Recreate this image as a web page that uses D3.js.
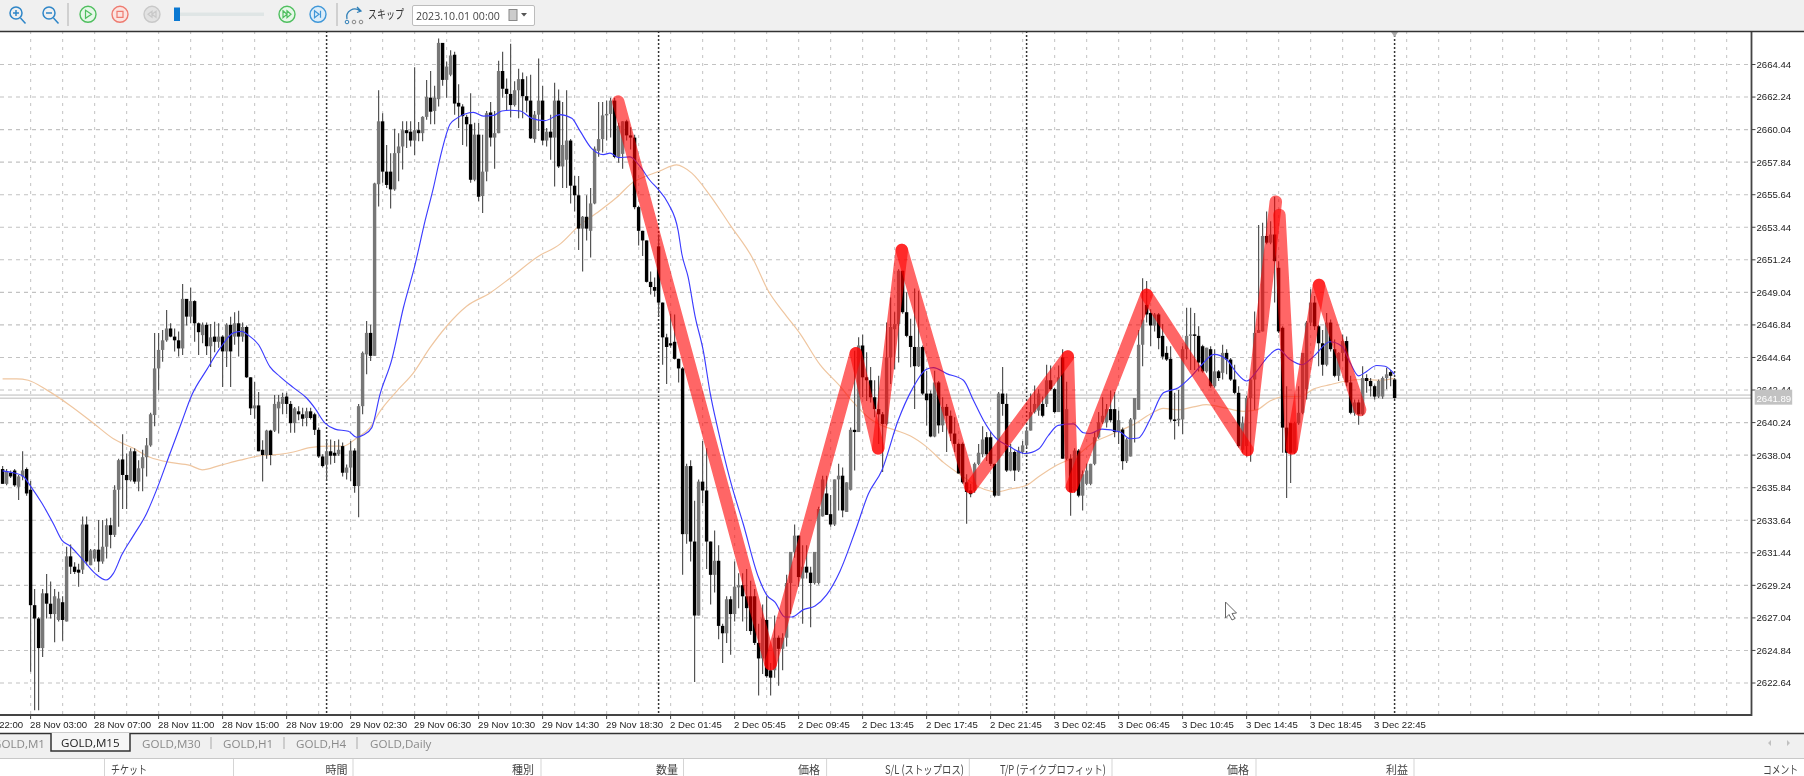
<!DOCTYPE html>
<html><head><meta charset="utf-8">
<script src="https://cdn.jsdelivr.net/npm/d3@7"></script>
<style>html,body{margin:0;padding:0;background:#fff;overflow:hidden}svg{display:block;filter:blur(.7px)}</style>
</head><body><svg id="c" width="1804" height="776"></svg>
<script>
// Candles as [open, high, low, close], one per 15-minute bar, in time order
const bars28Nov=[[2637.1,2637.3,2636.1,2636.1],[2636.1,2637.1,2636,2636.9],[2636.85,2637,2636.5,2636.6],[2637,2637.1,2635.9,2636],[2635.9,2636.7,2635,2636.6],[2636.6,2638.3,2636.35,2637],[2637.1,2637.2,2635.3,2635.45],[2635.7,2636.3,2623.4,2627.9],[2627.9,2629,2620.8,2627],[2627,2627.1,2620.8,2625],
[2625,2629,2624.4,2628.7],[2628.7,2630,2627,2628],[2628,2629.5,2627,2627.3],[2627.3,2629,2625.4,2628.5],[2626.9,2628.8,2626.8,2628.35],[2628.1,2628.5,2625.5,2626.9],[2626.8,2631.85,2626.8,2631.2],[2631.2,2632,2630,2630.5],[2630.5,2630.8,2630,2630.15],[2630.3,2630.7,2629.15,2630.1],
[2630.3,2633.9,2630,2633.35],[2633.35,2633.9,2630.6,2630.85],[2630.6,2631.7,2630.6,2631.6],[2631.05,2631.7,2630.85,2631.65],[2631.65,2633.65,2630.15,2630.85],[2630.85,2633.65,2630.7,2631.85],[2631.85,2633.75,2631.05,2633.3],[2633.3,2633.8,2631.75,2632.65],[2632.65,2636,2632.5,2635.7],[2635.7,2637.8,2633.2,2637.7],
[2637.75,2639.45,2634.4,2636.7],[2636.7,2638.15,2634.4,2636.35],[2636.35,2638.5,2636.25,2638.3],[2638.3,2638.5,2636.1,2636.25],[2636.25,2637.7,2635.6,2637.15],[2637.15,2638.4,2635.6,2637.9],[2637.9,2639.2,2636.6,2638.7],[2638.7,2640.9,2638.6,2640.8],[2640.75,2646.3,2640,2643.9],[2643.9,2646.3,2642.4,2645.15],
[2645.15,2646.5,2644.35,2645.8],[2645.8,2647.85,2645.7,2646.6],[2646.6,2646.95,2646,2646.05],[2646.05,2646.6,2645.05,2645.8],[2645.8,2646.4,2644.7,2645.25],[2645.25,2649.6,2644.8,2648.6],[2648.6,2648.6,2646.8,2647.4],[2647.4,2649.35,2646.95,2648.45],[2648.45,2648.5,2645.7,2646.95],[2646.95,2647,2644.8,2646.35],
[2646.15,2647,2645.6,2646.85],[2646.85,2647,2644.8,2645.4],[2645.4,2646.9,2644,2646],[2646.05,2647.05,2645,2645.7],[2645.7,2646.95,2645.3,2646.05],[2646.05,2646.15,2642.65,2645.05],[2645.05,2646.95,2644,2646.85],[2646.85,2647.4,2642.65,2645.05],[2646.05,2647.7,2645.5,2646.95],[2646.95,2647.8,2644.7,2646.05],
[2646.05,2647,2645.7,2646.7],[2646.7,2646.8,2643.25,2643.3],[2643.3,2643.3,2640.75,2641.2],[2641.2,2643,2640.5,2641.4],[2641.4,2642.3,2638.3,2638.3],[2638.4,2639.05,2636.25,2638.05],[2638.05,2639.75,2637.8,2639.7],[2639.7,2639.75,2637.35,2638.05],[2639.7,2642.1,2639.6,2641.5],[2641.2,2642.1,2639.5,2641.65]];
const bars29Nov=[[2641.5,2642.25,2640.8,2641.97],[2642,2642.25,2640.8,2641.5],[2641.5,2641.7,2639.55,2640.2],[2640.2,2641.3,2639.55,2641.2],[2641,2641.35,2640.4,2640.8],[2640.8,2641.25,2640,2640.5],[2640.55,2641.25,2640,2641],[2641,2641.25,2640.45,2640.55],[2640.8,2640.9,2639.4,2639.75],[2639.75,2639.9,2637.85,2637.95],
[2637.95,2638.1,2637.2,2637.3],[2637.4,2639.1,2636.4,2638.3],[2638.3,2639.1,2637.4,2638],[2638.2,2639,2637.5,2638],[2638.1,2639.1,2638,2638.4],[2638.65,2638.9,2636.6,2636.85],[2636.85,2637.4,2636.4,2637.2],[2637.2,2639,2636.3,2638.35],[2638.35,2638.5,2635.5,2635.95],[2635.95,2641.5,2633.85,2641.35],
[2641.35,2645.05,2640.8,2644.95],[2644.85,2647.1,2643.5,2646.3],[2646.3,2646.85,2644.4,2644.75],[2644.75,2656.45,2644.75,2656.4],[2656.35,2662.7,2654.85,2660.6],[2660.6,2661.15,2656.45,2657.2],[2657.2,2659,2656.1,2656.3],[2657.2,2658.45,2654.7,2656],[2656,2660.1,2655.9,2658.45],[2658.45,2659.8,2656.55,2658.9],
[2658.9,2660.6,2657.35,2660],[2660,2660.6,2658.8,2659.8],[2659.9,2660.6,2658.9,2659.3],[2659.3,2664.25,2658.3,2660],[2660,2660.55,2659.25,2659.8],[2659.8,2660.95,2659.25,2660.9],[2660.9,2663.4,2660.7,2662.25],[2662.2,2664,2660.4,2661.25],[2661.3,2663,2660.4,2662.2],[2662.1,2666.2,2661.6,2665.9],
[2665.9,2665.9,2663,2663.4],[2663.4,2664.65,2662.2,2664.3],[2663.75,2665.4,2663.65,2665.05],[2665.1,2665.3,2661.05,2661.8],[2661.85,2663.1,2660.15,2661.6],[2661.6,2661.75,2659,2660.95],[2660.9,2661.05,2658.9,2660.4],[2660.4,2662.5,2656.45,2656.65],[2656.65,2660.5,2656.55,2659.7],[2659.7,2660.5,2655.2,2655.5],
[2655.55,2659.7,2654.4,2657.2],[2657.2,2661.3,2656.55,2661.15],[2661.2,2661.9,2658.9,2659.5],[2659.5,2661.3,2657.4,2659.8],[2659.8,2664.7,2659.8,2664],[2664,2665.3,2662.2,2662.8],[2662.8,2663.5,2661.3,2662.45],[2662.45,2665.85,2660.85,2661.7],[2661.7,2663.3,2661.6,2662.7],[2662.7,2664.15,2660.8,2663.45],
[2663.45,2663.9,2660.8,2662.3],[2662.3,2663.65,2661.2,2662],[2662,2663.75,2659.4,2659.45],[2659.4,2661.3,2659.15,2661.05],[2661.05,2664.85,2659.95,2662],[2662,2663,2659,2659.3],[2659.3,2660.15,2658.9,2659.9],[2659.9,2661.05,2658,2659.5],[2659.5,2663.2,2656.2,2662],[2662,2662.75,2657.45,2657.55]];
const bars2DecA=[[2657.55,2661.9,2656.1,2659],[2658,2662.7,2656.1,2659.3],[2659.3,2659.4,2655.05,2656.25],[2656.25,2656.9,2654.5,2655.6],[2655.6,2656.9,2651.9,2653.35],[2653.35,2654.2,2650.45,2654.15],[2654.15,2655.6,2652.55,2653.35],[2653.2,2656.1,2651.4,2655.05],[2655.05,2658.9,2655,2658.75],[2658.6,2661.9,2658.2,2659.4],
[2659.4,2661.9,2658.5,2661],[2661,2662,2659.3,2661.1],[2661.1,2662.2,2659.5,2662],[2662,2662.2,2658.1,2658.2],[2658.2,2660.5,2657.8,2660.3],[2658.4,2660.6,2657.4,2660.6],[2660.6,2660.7,2659.3,2659.65],[2659.65,2660.2,2658.7,2659.5],[2659.5,2659.7,2654.65,2654.8],[2654.8,2654.9,2652.2,2653.2],
[2653.2,2653.2,2651.5,2652.55],[2652.55,2652.55,2649.7,2649.75],[2649.75,2650.45,2648.9,2649.4],[2649.4,2650.05,2648.75,2649.15],[2652.15,2652.95,2647.45,2648.35],[2648.35,2648.35,2644.15,2646],[2646,2646.25,2642.85,2645.35],[2645.6,2647.6,2645.3,2645.45],[2645.7,2647.55,2644.5,2644.55],[2644.55,2644.55,2642.95,2643.9],
[2643.9,2644,2629.95,2632.7],[2632.7,2637.45,2632.05,2637.3],[2637.3,2637.7,2630.85,2632.2],[2632.2,2634.95,2622.7,2627.2],[2627.2,2636.4,2627.2,2636.25],[2636.25,2639,2634.8,2635.65],[2635.65,2638.5,2630.35,2632.2],[2632.2,2632.2,2627.95,2629.95],[2629.95,2632.95,2628.75,2630.9],[2630.9,2631.95,2625.6,2626.5],
[2626.5,2626.65,2624,2626],[2626,2628.5,2625.35,2628.3],[2628.3,2628.5,2624.55,2627.3],[2627.3,2630.85,2626.8,2629.15],[2629.1,2630.05,2627.7,2629.25],[2629.25,2630.05,2626.8,2628.5],[2628.5,2630.35,2626.15,2627.7],[2628.5,2629.55,2625.9,2626.15],[2628.5,2629,2625.2,2625.35],[2625.35,2626.65,2621.8,2624.3],
[2624.3,2627.95,2623.25,2627],[2626.9,2628.5,2623,2623.1],[2623.5,2624,2621.8,2623],[2623.5,2627.2,2623,2625.7],[2625.7,2625.85,2622.45,2624.95],[2624.95,2626,2623.5,2625.7],[2625.7,2629.95,2625.1,2629.4],[2629.4,2631.5,2627.3,2631.5],[2631.5,2633.35,2631.1,2632.6],[2632.6,2632.6,2629.15,2629.8],
[2629.7,2631.95,2626.65,2630.5],[2630.5,2631.95,2629.7,2630.1],[2630.1,2630.5,2626.4,2629.4],[2629.4,2631.5,2629.3,2631.5],[2629.4,2634.55,2629.3,2634.4],[2633.9,2636.65,2633.9,2636.4],[2635.45,2636.65,2634,2634],[2634.05,2635.35,2633.2,2633.35],[2633.35,2636.4,2633.25,2636.4],[2636.4,2637.45,2634.3,2636.65]];
const bars2DecB=[[2636.65,2637.2,2633.85,2634.3],[2634.2,2636.2,2634.2,2636.2],[2635.7,2639.9,2635.65,2639.75],[2639.75,2645.1,2637,2639.6],[2639.6,2646,2639.6,2645.45],[2645.45,2646.2,2641.95,2643.3],[2643.3,2645,2641.7,2643.1],[2643.1,2644,2641.6,2641.95],[2641.95,2643.1,2640.6,2641.15],[2641.15,2643.4,2638.8,2640.8],
[2640.8,2640.95,2636.9,2640.15],[2640.15,2647,2640.05,2644.65],[2644.65,2648.7,2642.85,2646.7],[2646.55,2647.7,2643.85,2646.9],[2646.9,2650.6,2644.3,2650.5],[2650.5,2650.5,2647.6,2647.7],[2647.7,2649.05,2646,2646.1],[2646.1,2647.25,2643.98,2645.35],[2645.35,2649.3,2641.15,2644.05],[2644.05,2649.15,2644,2645.35],
[2645.35,2645.45,2642.1,2642.2],[2642.2,2643.75,2640.05,2641.75],[2642.2,2642.4,2639.25,2639.3],[2639.3,2643.75,2639.25,2642.95],[2642.95,2643.05,2639.5,2640.05],[2640.05,2641.95,2639.6,2641.3],[2641.3,2641.5,2638.25,2640.7],[2640.7,2641.05,2639,2639.5],[2639.5,2640.6,2638.25,2638.8],[2638.8,2638.9,2636.8,2636.8],
[2638.8,2638.9,2636.1,2636.2],[2636.2,2636.75,2633.4,2635.55],[2635.65,2636.1,2635.2,2635.4],[2635.65,2637.55,2635.5,2637.45],[2637.45,2638.8,2637.35,2638.2],[2638.1,2640,2637.9,2639.1],[2639.25,2639.6,2637.65,2638.1],[2639.25,2639.6,2637.3,2637.45],[2637.45,2637.45,2635.2,2635.3],[2635.3,2642.3,2635.3,2642.2],
[2642.2,2644,2640.7,2641.5],[2641.5,2642.2,2636.9,2637],[2637,2638.8,2636.95,2638.25],[2638.25,2638.35,2636.3,2637],[2637,2638.6,2636.9,2638.35],[2638.25,2639,2638.1,2638.7],[2638.7,2639.95,2638.55,2639.7],[2639.7,2642.2,2639.7,2640.95],[2640.95,2642.75,2640.85,2641.5],[2641.05,2642.5,2640.7,2642.2],
[2641.5,2642,2640.6,2640.7],[2641.5,2644.15,2641.3,2643.1],[2643.1,2644.1,2642.4,2642.5],[2642.5,2642.6,2640.85,2640.95],[2640.95,2644.1,2640.95,2643.3],[2644.65,2645.2,2637.8,2637.8],[2637.8,2643,2637.7,2641.15],[2637.8,2638.1,2633.95,2635.55],[2635.65,2638.5,2635.5,2638.35],[2638.35,2638.45,2635.2,2635.3],
[2635.3,2637,2634.3,2636.75],[2636.1,2637.45,2636,2637],[2636.1,2637.45,2636,2637.45],[2637.45,2639.6,2637.35,2639.25],[2639.25,2640.95,2639.15,2640.25],[2640.25,2641.95,2640.15,2640.7],[2640.25,2641.5,2639.9,2641.15],[2641.15,2642.4,2640.25,2640.4],[2641.15,2642.3,2639.25,2639.6],[2639.6,2641.05,2638.8,2640.4]];
const bars3Dec=[[2639.77,2639.9,2637.05,2637.63],[2637.63,2639.2,2637.5,2639.1],[2637.95,2640.55,2637.95,2640.45],[2640.45,2641.9,2638.9,2641.9],[2641.1,2646.5,2641.1,2645.5],[2645.5,2650,2644.05,2647.2],[2648.2,2649.8,2647,2647.55],[2647.65,2647.9,2645.4,2646.8],[2646.8,2647.65,2646.4,2647.55],[2647.55,2647.65,2645.2,2645.95],
[2646.1,2646.9,2644.5,2644.7],[2644.95,2645.4,2644.4,2644.5],[2644.55,2645.4,2640.3,2640.45],[2640.45,2642.25,2639.1,2640.35],[2640.4,2642.45,2640,2640.5],[2640.45,2645.4,2639.45,2645.2],[2645.2,2648,2644.5,2646.1],[2646.1,2648,2643.8,2646.2],[2646.2,2647.65,2643.8,2646.1],[2646.1,2646.75,2643.7,2644.3],
[2645.4,2645.5,2643.6,2643.7],[2643.7,2645.3,2643.6,2645.3],[2645.2,2645.4,2642.6,2642.7],[2642.7,2645.2,2642.6,2643.7],[2643.7,2643.8,2643.05,2643.25],[2643.6,2645.5,2643.15,2644.95],[2644.95,2645.2,2643.5,2644.5],[2644.5,2644.6,2643.05,2643.15],[2643.15,2644.15,2642.15,2642.25],[2642.25,2642.7,2638.55,2638.65],
[2638.4,2640.65,2638.2,2640.2],[2638.65,2642.05,2637.95,2641.9],[2641.9,2643.25,2637.6,2643.15],[2643.15,2647.75,2641.1,2646.3],[2646.3,2653.6,2646.3,2646.5],[2646.4,2653.75,2646.4,2652.85],[2652.85,2654.5,2652.3,2652.4],[2652.4,2653.85,2652.3,2652.95],[2652.95,2655.5,2648.35,2651.15],[2650.7,2651.15,2646.3,2646.4],
[2646.65,2646.75,2638.2,2639.9],[2639.9,2642.7,2635.15,2638.2],[2640.2,2640.2,2636.15,2638.2],[2638.2,2640.3,2638.1,2640.2],[2640.2,2642.7,2640.1,2640.9],[2640.9,2644.95,2640.8,2644.95],[2642.5,2647.1,2641.8,2647],[2647,2649.25,2646.75,2648.35],[2648.35,2648.8,2646.5,2646.75],[2646.75,2646.85,2644.05,2645.6],
[2645.6,2646.5,2643.4,2644.15],[2644.15,2647.65,2644.05,2647],[2647,2647.2,2645.05,2645.2],[2645.2,2645.85,2643.3,2643.4],[2643.4,2645,2643.05,2644.95],[2644.95,2646.2,2644.4,2645.75],[2645.75,2646.05,2642.7,2642.95],[2642.95,2643.4,2640.8,2640.9],[2640.9,2641.8,2640.7,2641.6],[2641.6,2641.8,2640.1,2640.8],
[2640.8,2644.05,2640.7,2643.25],[2643.25,2643.5,2642.25,2643.05],[2643.05,2643.25,2642,2642.7],[2642.7,2642.8,2641.8,2642],[2642,2643.15,2641.9,2643.05],[2642,2643.35,2641.85,2643.25],[2643.25,2643.95,2642.5,2643.5],[2643.65,2643.8,2642.7,2643.4],[2643.15,2643.25,2641.85,2641.9]];

// Moving averages as [bar number, price]
const maFast=[[0,2636.98],[2.7,2636.85],[5.2,2636.6],[6.85,2636],[9.8,2634.8],[12.7,2633.4],[14.8,2632.3],[16.85,2631.9],[19.8,2631.05],[23.1,2630.05],[25.85,2629.6],[27.7,2630.05],[29.8,2631.3],[32.7,2632.6],[36,2634.1],[38.5,2635.7],[41.85,2638.15],[44.8,2640.3],[47.3,2642.1],[51,2643.8],[54.35,2645.25],[57.7,2646.3],[59.8,2646.4],[61.4,2646.15],[64,2645.5],[66.85,2644],[69.35,2643.35],[72.7,2642.6],[76,2641.9],[78.1,2641.2],[80.6,2640.2],[83.1,2639.8],[86.45,2639.65],[88.5,2639.25],[90.2,2639.4],[92.3,2639.9],[94.35,2642.15],[97.3,2644.5],[100.2,2648],[103.1,2650.9],[105.6,2653.85],[107.7,2656.1],[109.35,2658.1],[111.85,2660.4],[113.5,2660.8],[115.6,2661.1],[117.7,2661.2],[120.2,2660.95],[122.7,2661],[124.8,2661.3],[126.85,2661.35],[129.35,2661.3],[132.3,2660.8],[135.6,2660.65],[139.35,2661.05],[142.3,2660.8],[144.35,2659.95],[147.3,2658.75],[150.2,2658.35],[151.85,2658.45],[154,2658.15],[156.85,2658.2],[159.35,2657.55],[161.85,2656.6],[163.9,2656],[166.4,2655.05],[168.9,2653.2],[169.8,2651.65],[171.4,2650.05],[173.1,2647.45],[175.2,2645.05],[176.85,2642.3],[178.9,2639.7],[181.85,2636.4],[185.2,2633.35],[188.95,2629.8],[191,2628.6],[193.1,2628.1],[195.6,2627.1],[197.3,2627.1],[200.2,2627.6],[203.1,2627.85],[206,2628.6],[209.35,2630.2],[213.35,2633.05],[216.4,2635.4],[219.8,2637],[223.9,2640.4],[227.2,2642.4],[231,2643.85],[232.7,2643.95],[236,2643.55],[240.2,2643.1],[242.7,2641.75],[245.2,2640.4],[248.1,2639.25],[251.85,2638.6],[255.6,2638.15],[259,2638.45],[261.4,2639.35],[263.9,2640.05],[267.7,2640.15],[270.2,2639.55],[271.85,2639.5],[274.8,2639.8],[279.35,2639.6],[281.85,2639.15],[283.95,2639.2],[286.85,2640.45],[290.2,2642.25],[293.95,2642.6],[297.3,2643.4],[299.8,2644.15],[302.85,2644.85],[306,2644.5],[308.5,2643.6],[311,2643.05],[313.5,2643.7],[316,2644.6],[318.9,2645.2],[321.85,2644.5],[324.8,2644.15],[327.7,2644.7],[331.85,2645.7],[334.8,2645.4],[336.85,2644.3],[339,2643.4],[341,2643.7],[343.5,2644.1],[345.6,2644.05],[348,2643.5]];
const maSlow=[[0,2643.2],[3.5,2643.2],[6.4,2643.1],[11,2642.45],[16.85,2641.4],[22.7,2640.2],[27.7,2639.15],[32.7,2638.5],[36.85,2637.9],[41.85,2637.55],[46.85,2637.35],[49.9,2637.05],[54.35,2637.35],[59.35,2637.7],[64.35,2638],[69.35,2638.1],[72.7,2638.25],[76.85,2638.55],[81.85,2638.65],[85.2,2638.65],[88.5,2639.2],[91.85,2639.9],[94.35,2641],[98.5,2642.35],[102.7,2643.6],[106.85,2645.3],[111,2646.75],[116,2648.1],[121.85,2649],[126.85,2650],[133.5,2651.4],[139.35,2652.3],[144.35,2653.6],[148.5,2654.4],[153.5,2655.45],[157.7,2656.5],[161,2656.9],[164.35,2657.25],[168.5,2657.65],[170.2,2657.5],[172.3,2657.1],[176.85,2655.6],[181.85,2653.6],[187.7,2651.25],[191.4,2649.15],[195.2,2647.7],[199.35,2646.25],[204.35,2644.15],[209.35,2642.7],[212.7,2641.6],[216.85,2640.5],[220.2,2640],[223.5,2639.7],[226.85,2639.35],[231,2638.6],[235.2,2637.55],[239.8,2636.65],[244.35,2635.85],[248.5,2635.55],[251.85,2635.75],[256,2636],[259.35,2636.65],[263.5,2637.35],[268.5,2638],[272.7,2638.9],[276,2639.3],[279.35,2639.7],[282.7,2640.1],[286.85,2640.8],[290.2,2641.2],[293.95,2641.1],[297.7,2641.3],[301,2641.45],[305.2,2641.25],[310.2,2641],[313.5,2641.1],[316.85,2641.7],[320.2,2642],[324.35,2642],[327.7,2642.5],[331.85,2642.8],[336,2643.05],[340.2,2643.15],[344.35,2643.1],[348,2643.25]];
// Hand-drawn red zigzag: each leg is [bar, price, bar, price]
const zigzagLegs=[[153.9,2661.93,192,2623.92],[192,2623.92,213.3,2644.92],[213.3,2644.92,218.9,2638.5],[218.9,2638.5,224.8,2651.9],[224.8,2651.9,242,2635.87],[242,2635.87,266.3,2644.7],[266.3,2644.7,267.3,2635.9],[267.3,2635.9,286,2648.87],[286,2648.87,311.2,2638.39],[311.2,2638.39,318.3,2655.17],[319.2,2654.27,322.3,2638.5],[322.3,2638.5,329.1,2649.54],[329.1,2649.54,339.4,2641.09]];

const priceTicks=[2664.44,2662.24,2660.04,2657.84,2655.64,2653.44,2651.24,2649.04,2646.84,2644.64,2642.44,2640.24,2638.04,2635.84,2633.64,2631.44,2629.24,2627.04,2624.84,2622.64];
const timeLabels=["27 Nov 22:00","28 Nov 03:00","28 Nov 07:00","28 Nov 11:00","28 Nov 15:00","28 Nov 19:00","29 Nov 02:30","29 Nov 06:30","29 Nov 10:30","29 Nov 14:30","29 Nov 18:30","2 Dec 01:45","2 Dec 05:45","2 Dec 09:45","2 Dec 13:45","2 Dec 17:45","2 Dec 21:45","3 Dec 02:45","3 Dec 06:45","3 Dec 10:45","3 Dec 14:45","3 Dec 18:45","3 Dec 22:45"];
const firstTimeBar=-9, timeStep=16, gridStep=8;
const daySeparators=[81,164,256,348];
const bidPrice=2641.89, askPrice=2642.1;
const tabLabels=["GOLD,M30","GOLD,H1","GOLD,H4","GOLD,Daily"];
const tableHeaders=[["時間",347.5,22],["種別",534,22],["数量",678,22],["価格",820,22],["S/L (ストップロス)",964,79],["T/P (テイクプロフィット)",1106,106],["価格",1249,22],["利益",1408,22],["コメント",1798,35]];
const tableSeps=[104.5,233.5,353,541,683.5,826.6,969.3,1112,1256,1414];

const candles=[].concat(bars28Nov,bars29Nov,bars2DecA,bars2DecB,bars3Dec).map(d=>({o:d[0],h:d[1],l:d[2],c:d[3]}));
const L=0,R=1751.5,T=31,B=715;
const x=d3.scaleLinear().domain([0,348]).range([2.6,1394.6]);
const y=d3.scaleLinear().domain([2622.64,2664.44]).range([683,64.5]);
const svg=d3.select("#c");
const sans='"Liberation Sans",Arial,sans-serif', cjk='"Noto Sans CJK JP","Liberation Sans",sans-serif';
svg.append("defs").append("clipPath").attr("id","plot").append("rect").attr("x",L).attr("y",T).attr("width",R-L).attr("height",B-T);
svg.append("rect").attr("width",1804).attr("height",776).attr("fill","#fff");

// grid
const plot=svg.append("g").attr("clip-path","url(#plot)");
const vBars=d3.range(7,440,gridStep);
plot.selectAll(".vg").data(vBars).join("line").attr("x1",d=>x(d)).attr("x2",d=>x(d)).attr("y1",T).attr("y2",B)
 .attr("stroke","#cccccc").attr("stroke-width",1.2).attr("stroke-dasharray","3,5");
plot.selectAll(".hg").data(priceTicks).join("line").attr("x1",L).attr("x2",R).attr("y1",d=>y(d)).attr("y2",d=>y(d))
 .attr("stroke","#c2c2c2").attr("stroke-width",1.1).attr("stroke-dasharray","4,4");
plot.selectAll(".sep").data(daySeparators).join("line").attr("x1",d=>x(d)).attr("x2",d=>x(d)).attr("y1",T).attr("y2",B)
 .attr("stroke","#333").attr("stroke-width",1.5).attr("stroke-dasharray","2,2");
plot.selectAll(".ba").data([bidPrice,askPrice]).join("line").attr("x1",L).attr("x2",R).attr("y1",d=>y(d)).attr("y2",d=>y(d))
 .attr("stroke","#bbb");

// moving average (slow) under candles
const line=d3.line().x(d=>x(d[0])).y(d=>y(d[1])).curve(d3.curveMonotoneX);
plot.append("path").attr("d",line(maSlow)).attr("fill","none").attr("stroke","#efc6a0").attr("stroke-width",1.2);

// candles
const cg=plot.append("g");
cg.selectAll("line").data(candles).join("line").attr("x1",(d,i)=>x(i)).attr("x2",(d,i)=>x(i)).attr("y1",d=>y(d.h)).attr("y2",d=>y(d.l))
 .attr("stroke","#555").attr("stroke-width",1.2);
cg.selectAll("rect").data(candles).join("rect").attr("x",(d,i)=>x(i)-1.7).attr("width",3.4)
 .attr("y",d=>y(Math.max(d.o,d.c))).attr("height",d=>Math.max(1.2,Math.abs(y(d.o)-y(d.c))))
 .attr("fill",d=>d.c>=d.o?"#777":"#000").attr("stroke","none");

plot.append("path").attr("d",line(maFast)).attr("fill","none").attr("stroke","#3c3cff").attr("stroke-width",1.15);

// red zigzag legs
plot.selectAll(".z").data(zigzagLegs).join("line").attr("x1",d=>x(d[0])).attr("y1",d=>y(d[1])).attr("x2",d=>x(d[2])).attr("y2",d=>y(d[3]))
 .attr("stroke","#ff0000").attr("stroke-opacity",.6).attr("stroke-width",12.5).attr("stroke-linecap","round");

// end-of-test marker
svg.append("path").attr("d",d3.line()([[x(348)-3.5,32],[x(348)+3.5,32],[x(348),37]])).attr("fill","#aaa");

// right axis
svg.selectAll(".yt").data(priceTicks).join("line").attr("x1",R).attr("x2",R+4).attr("y1",d=>y(d)).attr("y2",d=>y(d)).attr("stroke","#444");
svg.selectAll(".yl").data(priceTicks).join("text").attr("x",R+5).attr("y",d=>y(d)+3.4).text(d=>d.toFixed(2))
 .attr("font-family",sans).attr("font-size",9.6).attr("fill","#222");
svg.append("rect").attr("x",1754.7).attr("y",y(bidPrice)-8.5).attr("width",37.5).attr("height",15).attr("fill","#c2c2c2");
svg.append("text").attr("x",R+5).attr("y",y(bidPrice)+3.4).text(bidPrice.toFixed(2)).attr("font-family",sans).attr("font-size",9.6).attr("fill","#fff");

// bottom axis
const tb=timeLabels.map((t,i)=>({t,bar:firstTimeBar+i*timeStep}));
svg.selectAll(".xt").data(tb).join("line").attr("x1",d=>x(d.bar)).attr("x2",d=>x(d.bar)).attr("y1",B).attr("y2",B+4).attr("stroke","#444");
svg.selectAll(".xl").data(tb).join("text").attr("x",d=>x(d.bar)-.5).attr("y",727.5).text(d=>d.t)
 .attr("font-family",sans).attr("font-size",9.6).attr("fill","#222");
svg.append("path").attr("d",`M0,${B}H${R}V${T}`).attr("fill","none").attr("stroke","#444").attr("stroke-width",1.8);

// toolbar
svg.append("rect").attr("width",1804).attr("height",T).attr("fill","#f0f0f0");
svg.append("line").attr("x1",0).attr("x2",1804).attr("y1",T+.5).attr("y2",T+.5).attr("stroke","#333").attr("stroke-width",1.5);
const tool=svg.append("g");
[[17,true],[50,false]].forEach(([cx,plus])=>{
 const g=tool.append("g").attr("fill","none").attr("stroke","#2f86c8").attr("stroke-width",1.5);
 g.append("circle").attr("cx",cx-1).attr("cy",13).attr("r",6);
 g.append("path").attr("d",`M${cx+3.5},18 l5,5.5 M${cx-4},13 h6`+(plus?` M${cx-1},10 v6`:""));
});
[[88,"#4fbf5f","#e6f7e8","M-2.5,-4 L3.5,0 L-2.5,4 Z"],[120,"#ee7b70","#fbe4e1","M-3,-3 h6 v6 h-6 Z"],[152,"#c8c8c8","#e2e2e2","M0,-3 L-4,0 L0,3 Z M4,-3 L0,0 L4,3 Z"],[287,"#4fbf5f","#e6f7e8","M-4,-3.5 L0,0 L-4,3.5 Z M0,-3.5 L4,0 L0,3.5 Z"],[318,"#3f97d8","#dcedf9","M-3.5,-3.5 L1,0 L-3.5,3.5 Z M2.5,-3.5 v7"]].forEach(([cx,s,f,p])=>{
 tool.append("circle").attr("cx",cx).attr("cy",14.3).attr("r",8).attr("fill",f).attr("stroke",s).attr("stroke-width",1.4);
 tool.append("path").attr("transform",`translate(${cx},14.3)`).attr("d",p).attr("fill","none").attr("stroke",s).attr("stroke-width",1.2);
});
[68,337].forEach(v=>tool.append("line").attr("x1",v).attr("x2",v).attr("y1",3).attr("y2",26).attr("stroke","#bbb").attr("stroke-width",1.2));
tool.append("rect").attr("x",174).attr("y",12.5).attr("width",90).attr("height",3.5).attr("fill","#dfe5e5");
tool.append("rect").attr("x",174).attr("y",7.5).attr("width",6).attr("height",13.5).attr("fill","#0a78d2");
tool.append("path").attr("d","M347,19 a8,8 0 0 1 13,-8 M357,7 l4,4 l-4,1.5").attr("fill","none").attr("stroke","#2f7fb8").attr("stroke-width",1.3);
[347,354,361].forEach(c=>tool.append("circle").attr("cx",c).attr("cy",22).attr("r",1.8).attr("fill","none").attr("stroke",c==347?"#2f7fb8":"#888"));
tool.append("text").attr("x",368).attr("y",19).text("スキップ").attr("textLength",36).attr("lengthAdjust","spacingAndGlyphs").attr("font-family",cjk).attr("font-size",12).attr("fill","#333");
tool.append("rect").attr("x",412.5).attr("y",5.5).attr("width",122).attr("height",20).attr("rx",1.5).attr("fill","#fff").attr("stroke","#bcbcbc");
tool.append("text").attr("x",416).attr("y",20).text("2023.10.01 00:00").attr("font-family",'"Open Sans",sans-serif').attr("font-size",10.6).attr("fill","#444");
tool.append("rect").attr("x",509).attr("y",9.5).attr("width",8).attr("height",11).attr("fill","#ccc").attr("stroke","#888");
tool.append("path").attr("d","M521,13 h6 l-3,3.5 Z").attr("fill","#555");

// cursor
svg.append("path").attr("d","M1225.5,602 L1225.5,618 L1229,614.5 L1232,620 L1235,618.5 L1232,613.5 L1236.5,613 Z").attr("fill","#fff").attr("stroke","#666");

// tabs
svg.append("rect").attr("y",733).attr("width",1804).attr("height",25).attr("fill","#f0f0f0");
svg.append("line").attr("x1",0).attr("x2",1804).attr("y1",733.5).attr("y2",733.5).attr("stroke","#333").attr("stroke-width",1.4);
svg.append("path").attr("d","M51,733 V751 H130 V733").attr("fill","#f6f6f6").attr("stroke","#333").attr("stroke-width",1.5);
svg.append("text").attr("x",0).attr("y",748).attr("dx",-7).text("GOLD,M1").attr("font-family",'"Open Sans",sans-serif').attr("font-size",11.6).attr("fill","#8a8a8a");
svg.append("text").attr("x",61).attr("y",747).text("GOLD,M15").attr("font-family",'"Open Sans",sans-serif').attr("font-size",11.6).attr("fill","#222");
const tabX=[142,223,296,370];
svg.selectAll(".tab").data(tabLabels).join("text").attr("x",(d,i)=>tabX[i]).attr("y",748).text(d=>d)
 .attr("font-family",'"Open Sans",sans-serif').attr("font-size",11.6).attr("fill","#8a8a8a");
[211,284,357].forEach(v=>svg.append("line").attr("x1",v).attr("x2",v).attr("y1",737).attr("y2",749).attr("stroke","#aaa"));
svg.append("path").attr("d","M1771,740 l-3,3 l3,3 Z M1787,740 l3,3 l-3,3 Z").attr("fill","#c0c0c0");

// table header
svg.append("rect").attr("y",758).attr("width",1804).attr("height",18).attr("fill","#fff");
svg.append("line").attr("x1",0).attr("x2",1804).attr("y1",758.5).attr("y2",758.5).attr("stroke","#c8c8c8");
svg.selectAll(".ts").data(tableSeps).join("line").attr("x1",d=>d).attr("x2",d=>d).attr("y1",759).attr("y2",776).attr("stroke","#d5d5d5");
svg.append("text").attr("x",111).attr("y",774).text("チケット").attr("textLength",36).attr("lengthAdjust","spacingAndGlyphs").attr("font-family",cjk).attr("font-size",11.5).attr("fill","#444");
svg.selectAll(".th").data(tableHeaders).join("text").attr("x",d=>d[1]-d[2]).attr("y",774).text(d=>d[0]).attr("textLength",d=>d[2]).attr("lengthAdjust","spacingAndGlyphs")
 .attr("font-family",cjk).attr("font-size",11.5).attr("fill","#444");
</script></body></html>
